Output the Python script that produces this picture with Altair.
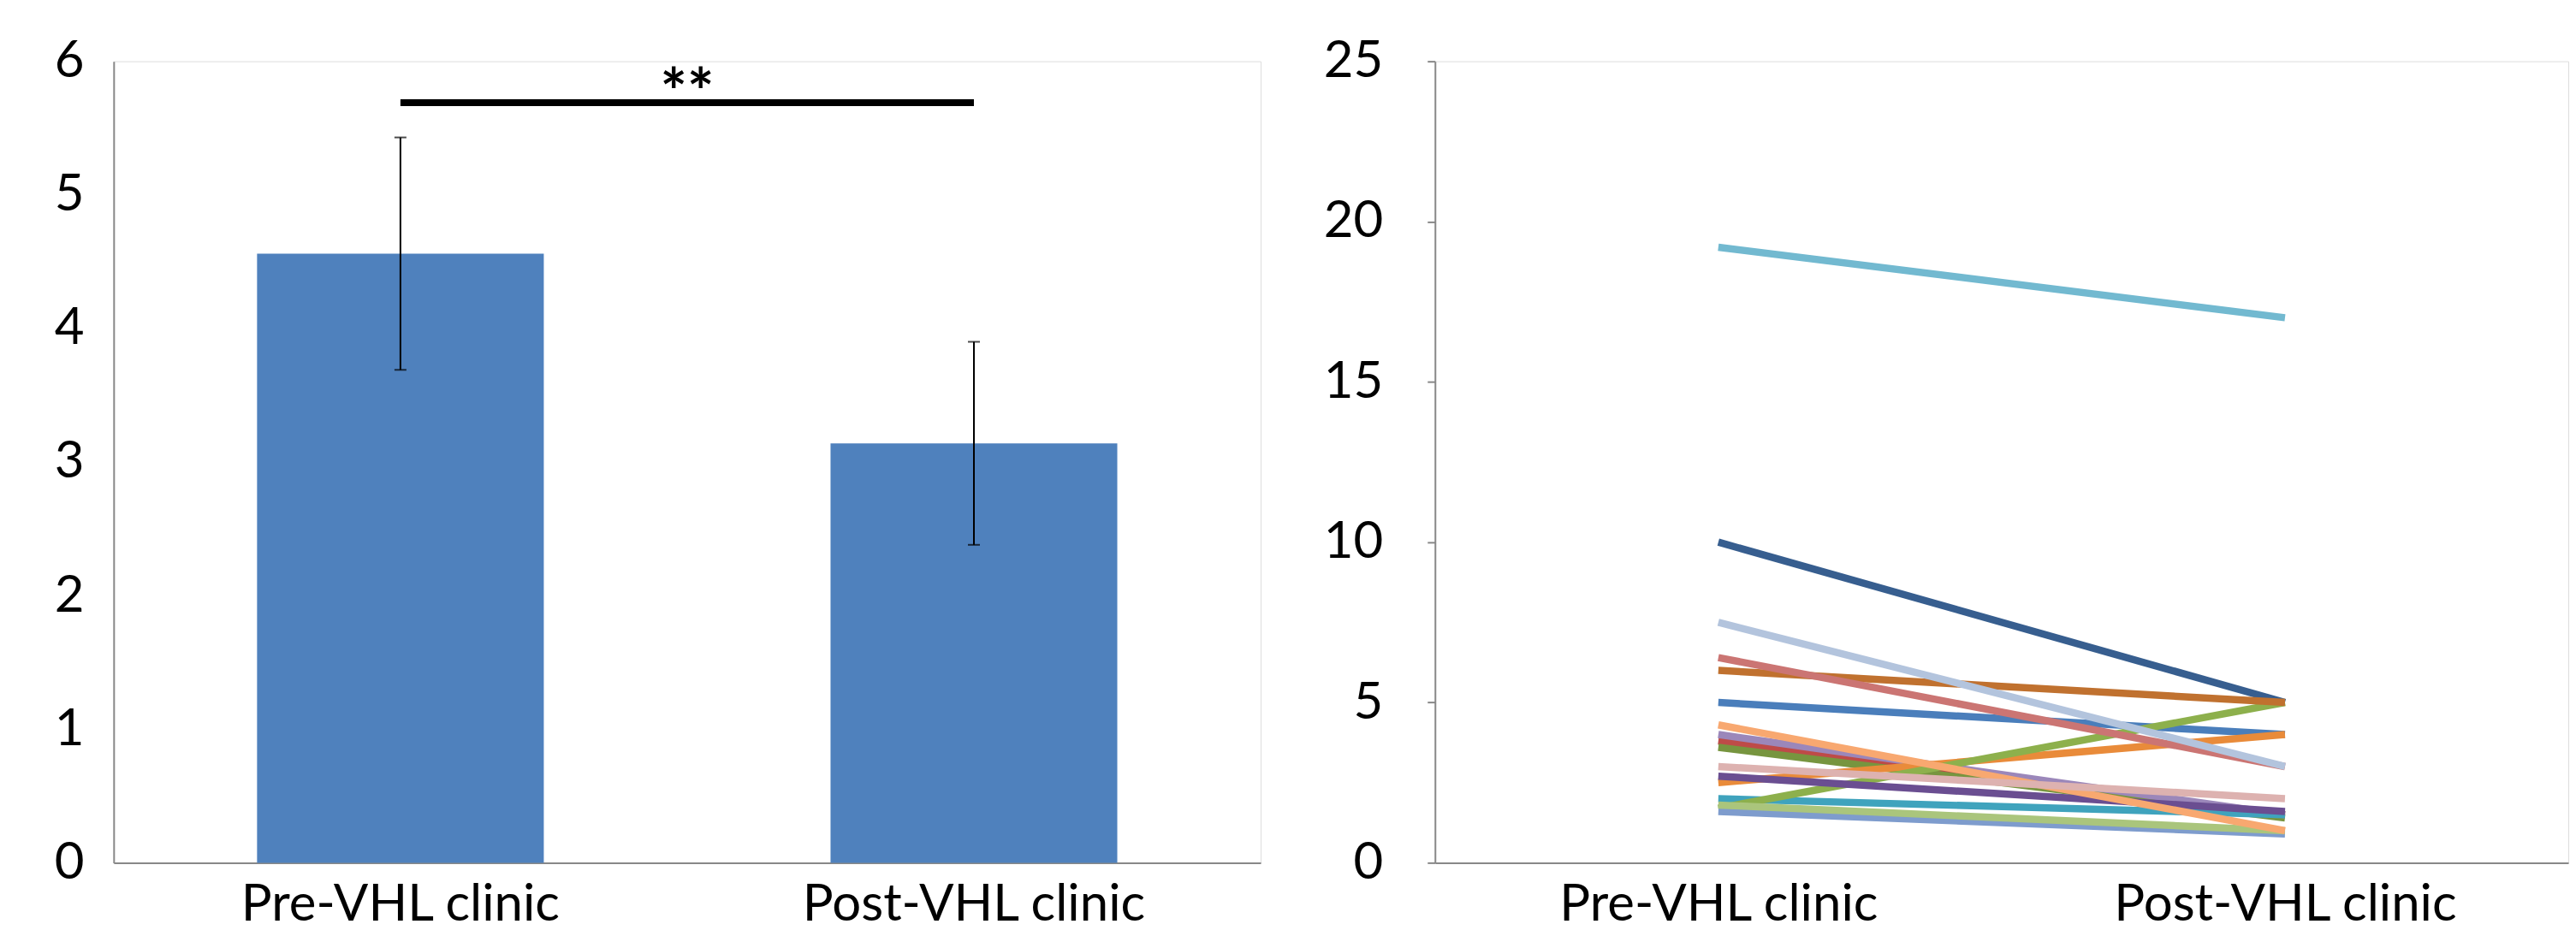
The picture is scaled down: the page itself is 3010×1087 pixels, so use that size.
import altair as alt
import pandas as pd

# ---------------- data ----------------
groups = ["Pre-VHL clinic", "Post-VHL clinic"]

# left panel: mean with error bars
bar_means = [4.56, 3.14]
bar_errs = [0.87, 0.76]
# significance bracket: from group index 0 to group index 1 (band centres at 0.5 and 1.5)
sig_start = [0.5]
sig_end = [1.5]
sig_level = [5.69]
sig_text_level = [5.6]
sig_label = ["**"]

# right panel: individual patients (pre, post)
patients = ["P01", "P02", "P03", "P04", "P05", "P06", "P07", "P08", "P09",
            "P10", "P11", "P12", "P13", "P14", "P15", "P16", "P17"]
pre_values = [5.0, 3.8, 3.6, 4.0, 2.0, 2.5, 10.0, 1.7, 2.7,
              6.0, 1.6, 6.4, 1.8, 19.2, 4.3, 7.5, 3.0]
post_values = [4.0, 1.5, 1.4, 1.5, 1.5, 4.0, 5.0, 5.0, 1.6,
               5.0, 0.9, 3.0, 1.0, 17.0, 1.0, 3.0, 2.0]
line_colors = ["#4A7EBB", "#BE4B48", "#77953F", "#9B87BA", "#3FA3BD", "#E98B3A",
               "#375E8F", "#8DB04C", "#6A4E91", "#C0712F", "#7E9CCD", "#CB7573",
               "#AAC57C", "#72B9D0", "#F8A870", "#B3C4DD", "#DDB2B0"]

y_ticks_left = [0, 1, 2, 3, 4, 5, 6]
y_ticks_right = [0, 5, 10, 15, 20, 25]

# ---------------- tables ----------------
bar_df = pd.DataFrame({"group": groups, "mean": bar_means, "err": bar_errs})
bar_df["lo"] = bar_df["mean"] - bar_df["err"]
bar_df["hi"] = bar_df["mean"] + bar_df["err"]

sig_df = pd.DataFrame({"x1": sig_start, "x2": sig_end, "y": sig_level,
                       "ty": sig_text_level, "label": sig_label})
sig_df["xm"] = (sig_df["x1"] + sig_df["x2"]) / 2

rows = []
for i, p in enumerate(patients):
    rows.append({"patient": p, "group": groups[0], "value": pre_values[i]})
    rows.append({"patient": p, "group": groups[1], "value": post_values[i]})
line_df = pd.DataFrame(rows)

# ---------------- styling ----------------
FONT = "Lato"
FS = 60
AXC = "#888888"

x_axis = alt.Axis(title=None, labelAngle=0, labelFont=FONT, labelFontSize=FS,
                  labelColor="black", ticks=False, domainColor=AXC, domainWidth=2,
                  labelPadding=20, labelLimit=0)

# ---------------- left panel ----------------
xl_scale = alt.Scale(domain=groups, paddingInner=0.5, paddingOuter=0.25)
yl_scale = alt.Scale(domain=[0, 6], nice=False)
xq_scale = alt.Scale(domain=[0, len(groups)], nice=False, zero=False)

bars = alt.Chart(bar_df).mark_bar(color="#4F81BD").encode(
    x=alt.X("group:N", scale=xl_scale, axis=x_axis),
    y=alt.Y("mean:Q", scale=yl_scale,
            axis=alt.Axis(title=None, values=y_ticks_left, format="d", grid=False,
                          ticks=False, labelFont=FONT, labelFontSize=FS,
                          labelColor="black", domainColor=AXC, domainWidth=2,
                          labelPadding=35, minExtent=124, maxExtent=124)),
)
err_rule = alt.Chart(bar_df).mark_rule(color="black", strokeWidth=2).encode(
    x=alt.X("group:N", scale=xl_scale), y=alt.Y("lo:Q", scale=yl_scale), y2="hi:Q"
)
cap_lo = alt.Chart(bar_df).mark_tick(color="black", size=14, thickness=2).encode(
    x=alt.X("group:N", scale=xl_scale), y=alt.Y("lo:Q", scale=yl_scale)
)
cap_hi = alt.Chart(bar_df).mark_tick(color="black", size=14, thickness=2).encode(
    x=alt.X("group:N", scale=xl_scale), y=alt.Y("hi:Q", scale=yl_scale)
)
band_layer = alt.layer(bars, err_rule, cap_lo, cap_hi)

sig_rule = alt.Chart(sig_df).mark_rule(color="black", strokeWidth=8).encode(
    x=alt.X("x1:Q", scale=xq_scale, axis=None), x2="x2:Q",
    y=alt.Y("y:Q", scale=yl_scale)
)
sig_txt = alt.Chart(sig_df).mark_text(font=FONT, fontSize=74, fontWeight="bold",
                                      color="black", baseline="alphabetic",
                                      align="center").encode(
    x=alt.X("xm:Q", scale=xq_scale, axis=None),
    y=alt.Y("ty:Q", scale=yl_scale),
    text="label:N",
)
sig_layer = alt.layer(sig_rule, sig_txt)

left = alt.layer(band_layer, sig_layer).resolve_scale(x="independent").properties(
    width=1342, height=938
)

# ---------------- right panel ----------------
right = alt.Chart(line_df).mark_line(strokeWidth=8.5).encode(
    x=alt.X("group:N", scale=alt.Scale(type="point", domain=groups, padding=0.5),
            axis=x_axis),
    y=alt.Y("value:Q", scale=alt.Scale(domain=[0, 25], nice=False),
            axis=alt.Axis(title=None, values=y_ticks_right, format="d", grid=False,
                          ticks=True, tickSize=9, tickColor=AXC, tickWidth=2,
                          labelFont=FONT, labelFontSize=FS, labelColor="black",
                          domainColor=AXC, domainWidth=2, labelPadding=52,
                          minExtent=202, maxExtent=202)),
    color=alt.Color("patient:N", scale=alt.Scale(domain=patients, range=line_colors),
                    legend=None),
).properties(width=1326, height=938)

chart = alt.hconcat(left, right, spacing=0).properties(
    padding={"left": 0, "top": 32, "right": 0, "bottom": 0}
).configure_view(stroke=None).configure(background="white")

chart.save("out.html", embed_options={"renderer": "svg", "actions": False})
